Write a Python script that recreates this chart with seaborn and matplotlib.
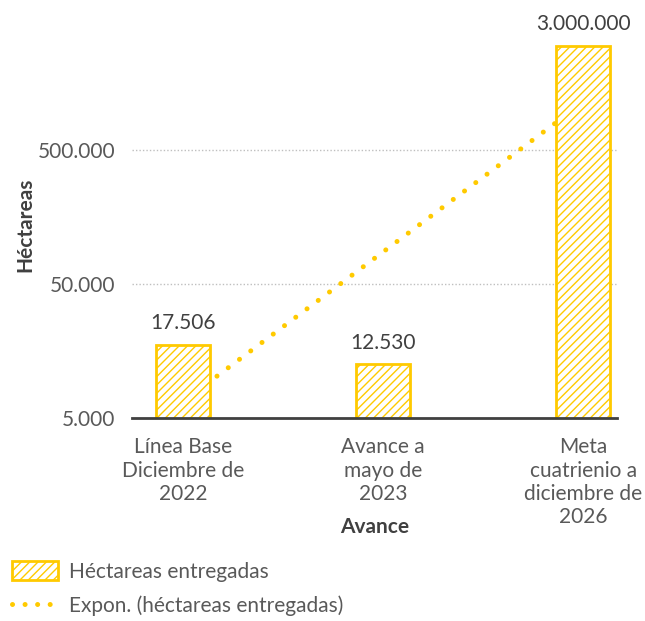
import matplotlib.pyplot as plt
import seaborn as sns
import numpy as np
import pandas as pd
from matplotlib.patches import Patch
from matplotlib.lines import Line2D

categories = ["Línea Base\nDiciembre de\n2022", "Avance a\nmayo de\n2023",
              "Meta\ncuatrienio a\ndiciembre de\n2026"]
hectareas = [17506, 12530, 3000000]
y_ticks = [5000, 50000, 500000]

YELLOW = '#FFCA00'
TEXT = '#595959'

sns.set_theme(style="white")
plt.rcParams['font.family'] = ['Lato', 'DejaVu Sans']
plt.rcParams['hatch.color'] = YELLOW
plt.rcParams['hatch.linewidth'] = 1.0

def fmt(v):
    return f"{v:,.0f}".replace(',', '.')

df = pd.DataFrame({'cat': categories, 'val': hectareas})

fig = plt.figure(figsize=(6.45, 6.21), dpi=100)
ax = fig.add_axes([0.205, 0.327, 0.752, 0.647])

sns.barplot(data=df, x='cat', y='val', color='white', width=0.27,
            edgecolor=YELLOW, linewidth=2, ax=ax, zorder=3)
ax.set_yscale('log')
for p in ax.patches:
    h = p.get_height()
    p.set_y(1)
    p.set_height(h - 1)
    p.set_hatch('////')
    p.set_facecolor('white')

# exponential trendline (fit on log values)
xs = np.arange(len(hectareas))
coef = np.polyfit(xs, np.log(hectareas), 1)
xl = np.linspace(0, len(hectareas) - 1, 200)
ax.plot(xl, np.exp(np.polyval(coef, xl)), color=YELLOW, lw=3.6,
        linestyle=(0, (0.01, 2.8)), dash_capstyle='round', zorder=2)

ax.set_ylim(5000, 5000000)
ax.set_xlim(-0.255, 2.17)
ax.set_yticks(y_ticks)
ax.set_yticklabels([fmt(v) for v in y_ticks])
ax.yaxis.set_minor_locator(plt.NullLocator())
ax.tick_params(axis='y', labelsize=15, labelcolor=TEXT, length=0, pad=12)
ax.tick_params(axis='x', labelsize=15, labelcolor=TEXT, length=0, pad=14)
for v in y_ticks[1:]:
    ax.axhline(v, color='#BFBFBF', lw=1, linestyle=(0, (1, 1.5)), zorder=1)

for s in ['top', 'right', 'left']:
    ax.spines[s].set_visible(False)
ax.spines['bottom'].set_color('#404040')
ax.spines['bottom'].set_linewidth(2)
ax.spines['bottom'].set_zorder(4)

for i, v in enumerate(hectareas):
    ax.text(i, v * 1.22, fmt(v), ha='center', va='bottom', fontsize=15, color='#404040')

ax.set_ylabel('Héctareas', fontsize=15, color='#404040', fontweight='bold')
ax.yaxis.set_label_coords(-0.2, 0.48)
ax.set_xlabel('Avance', fontsize=15, color='#404040', fontweight='bold', va='center')
ax.xaxis.set_label_coords(0.5, -0.271)

handles = [Patch(facecolor='white', edgecolor=YELLOW, hatch='////', linewidth=2),
           Line2D([0], [0], color=YELLOW, lw=3.6, linestyle=(0, (0.01, 2.5)), dash_capstyle='round')]
fig.legend(handles, ['Héctareas entregadas', 'Expon. (héctareas entregadas)'],
           loc='lower left', bbox_to_anchor=(-0.01, -0.022), frameon=False,
           fontsize=15, labelcolor=TEXT, handlelength=2.2, handleheight=1.0,
           handletextpad=0.5, labelspacing=0.65)

fig.savefig('out.png', dpi=100)
